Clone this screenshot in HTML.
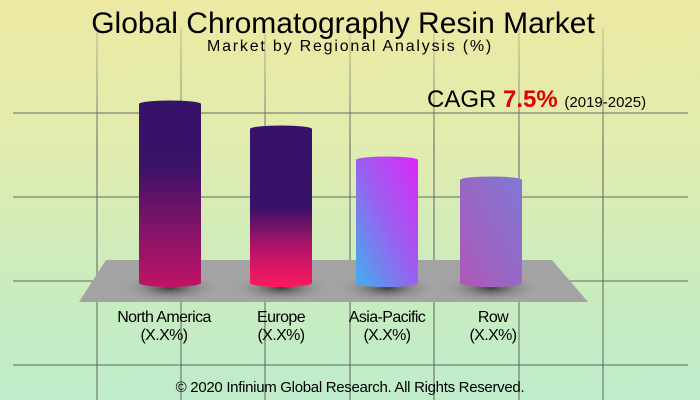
<!DOCTYPE html>
<html><head><meta charset="utf-8"><style>
html,body{margin:0;padding:0}
body{width:700px;height:400px;overflow:hidden;position:relative;font-family:"Liberation Sans",sans-serif;background:linear-gradient(#ece9a2,#e2ecae 35%,#c8ecc0 75%,#bfeccb)}
.t{position:absolute;left:0;width:700px;text-align:center;color:#000;white-space:nowrap}
.lbl{position:absolute;width:160px;text-align:center;font-size:16px;line-height:18px;letter-spacing:-0.6px}
</style></head><body>
<svg width="700" height="400" style="position:absolute;left:0;top:0">
<defs>
<linearGradient id="vl" gradientUnits="userSpaceOnUse" x1="0" y1="28" x2="0" y2="400"><stop offset="0" stop-color="#777" stop-opacity="0.3"/><stop offset="0.3" stop-color="#555" stop-opacity="0.7"/><stop offset="1" stop-color="#555" stop-opacity="0.7"/></linearGradient>
<linearGradient id="g1" x1="0" y1="0" x2="0" y2="1"><stop offset="0" stop-color="#361268"/><stop offset="0.35" stop-color="#3a1268"/><stop offset="0.65" stop-color="#7a1468"/><stop offset="1" stop-color="#c01466"/></linearGradient>
<linearGradient id="g2" x1="0" y1="0" x2="0" y2="1"><stop offset="0" stop-color="#361268"/><stop offset="0.5" stop-color="#361268"/><stop offset="0.75" stop-color="#b01468"/><stop offset="1" stop-color="#ff1860"/></linearGradient>
<linearGradient id="g3" x1="1" y1="0" x2="0" y2="1"><stop offset="0" stop-color="#dc28f8"/><stop offset="0.5" stop-color="#9a60f0"/><stop offset="1" stop-color="#40b0ec"/></linearGradient>
<linearGradient id="g4" x1="1" y1="0" x2="0" y2="1"><stop offset="0" stop-color="#8078d4"/><stop offset="1" stop-color="#ae58b8"/></linearGradient>
<radialGradient id="sh" cx="0.5" cy="0.5" r="0.5"><stop offset="0" stop-color="#333" stop-opacity="0.9"/><stop offset="1" stop-color="#999" stop-opacity="0"/></radialGradient>
</defs>
<g stroke="#555" stroke-opacity="0.7" stroke-width="1.3">
<line x1="13" y1="113" x2="688" y2="113"/><line x1="13" y1="197" x2="688" y2="197"/><line x1="13" y1="281" x2="688" y2="281"/><line x1="13" y1="365" x2="688" y2="365"/>
</g>
<g stroke="url(#vl)" stroke-width="1.3">
<line x1="97" y1="28" x2="97" y2="400"/><line x1="181" y1="28" x2="181" y2="400"/><line x1="265" y1="28" x2="265" y2="400"/><line x1="350" y1="28" x2="350" y2="400"/><line x1="434" y1="28" x2="434" y2="400"/><line x1="519" y1="28" x2="519" y2="400"/><line x1="603" y1="28" x2="603" y2="400"/>
</g>
<polygon points="106,260 552,260 588,302 79,302" fill="#a3a3a3"/>
<g fill="url(#sh)">
<ellipse cx="170" cy="288" rx="48" ry="14"/><ellipse cx="281" cy="288" rx="48" ry="14"/><ellipse cx="387" cy="288" rx="48" ry="14"/><ellipse cx="491" cy="288" rx="48" ry="14"/>
</g>
<path d="M139,104 A31,3.5 0 0 1 201,104 L201,283 A31,4 0 0 1 139,283 Z" fill="url(#g1)"/>
<path d="M250,129 A31,3.5 0 0 1 312,129 L312,283 A31,4 0 0 1 250,283 Z" fill="url(#g2)"/>
<path d="M356,160 A31,3.5 0 0 1 418,160 L418,283 A31,4 0 0 1 356,283 Z" fill="url(#g3)"/>
<path d="M460,180 A31,3.5 0 0 1 522,180 L522,283 A31,4 0 0 1 460,283 Z" fill="url(#g4)"/>
</svg>
<div class="t" style="top:7px;font-size:30px;line-height:34px;left:-7px">Global Chromatography Resin Market</div>
<div class="t" style="top:38px;font-size:16px;line-height:18px;letter-spacing:1.8px">Market by Regional Analysis (%)</div>
<div style="position:absolute;left:427px;top:86px;font-size:24px;line-height:28px;white-space:nowrap">CAGR <b style="color:#e00000">7.5%</b> <span style="font-size:15px">(2019-2025)</span></div>
<div class="lbl" style="left:84px;top:309px">North America<br>(X.X%)</div>
<div class="lbl" style="left:201px;top:309px">Europe<br>(X.X%)</div>
<div class="lbl" style="left:307px;top:309px">Asia-Pacific<br>(X.X%)</div>
<div class="lbl" style="left:413px;top:309px">Row<br>(X.X%)</div>
<div class="t" style="top:379px;font-size:15px;line-height:17px;letter-spacing:-0.3px">© 2020 Infinium Global Research. All Rights Reserved.</div>
</body></html>
